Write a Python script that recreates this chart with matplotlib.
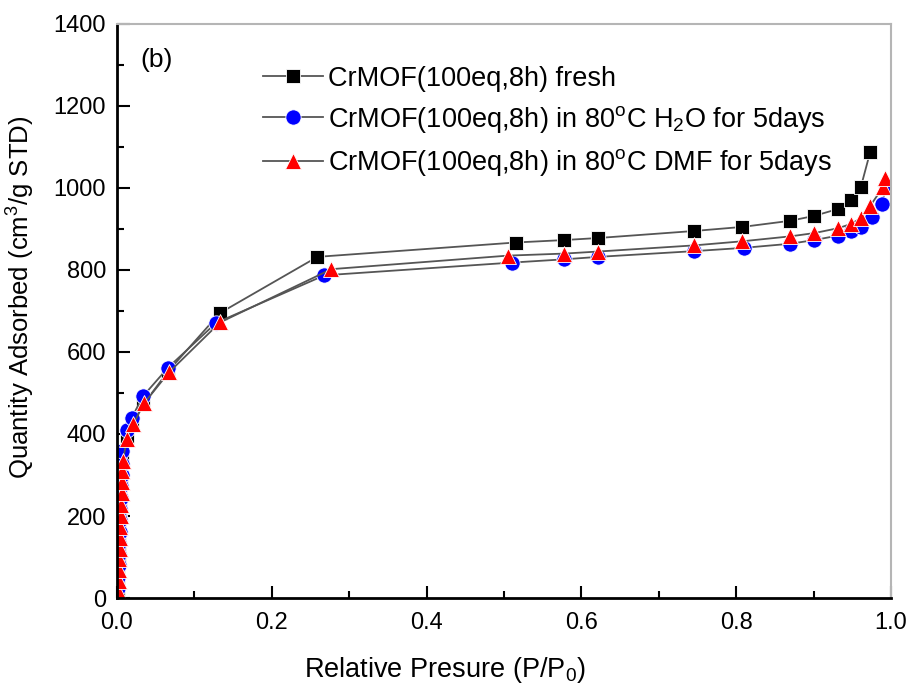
import matplotlib.pyplot as plt
from matplotlib.ticker import MultipleLocator

# isotherm data
fresh_x = [0.0008, 0.0012, 0.0016, 0.002, 0.0024, 0.0028, 0.0032, 0.0036, 0.004, 0.0045,
           0.005, 0.0055, 0.006, 0.013, 0.019, 0.034, 0.066, 0.133, 0.259, 0.515, 0.578,
           0.622, 0.745, 0.808, 0.870, 0.901, 0.932, 0.948, 0.961, 0.973]
fresh_y = [10, 38, 65, 92, 120, 148, 175, 202, 230, 258, 285, 312, 340, 395, 428, 472,
           553, 695, 832, 867, 873, 878, 895, 905, 920, 932, 949, 971, 1002, 1087]

h2o_x = [0.001, 0.0015, 0.002, 0.0025, 0.003, 0.0035, 0.004, 0.0045, 0.005, 0.0055,
         0.006, 0.0065, 0.007, 0.013, 0.019, 0.034, 0.066, 0.128, 0.268, 0.510, 0.578,
         0.622, 0.746, 0.810, 0.870, 0.901, 0.932, 0.948, 0.961, 0.975, 0.989, 0.993]
h2o_y = [25, 52, 80, 108, 135, 162, 190, 218, 245, 272, 300, 328, 358, 410, 440, 493,
         562, 671, 787, 818, 826, 832, 846, 854, 864, 873, 884, 894, 906, 930, 962, 1005]

dmf_x = [0.0015, 0.002, 0.0025, 0.003, 0.0035, 0.004, 0.0045, 0.005, 0.0055, 0.006,
         0.0065, 0.007, 0.0075, 0.013, 0.021, 0.035, 0.067, 0.133, 0.277, 0.505, 0.578,
         0.622, 0.746, 0.808, 0.870, 0.901, 0.932, 0.948, 0.961, 0.973, 0.990, 0.992]
dmf_y = [18, 42, 68, 95, 120, 146, 172, 200, 228, 255, 283, 310, 335, 388, 424, 475,
         550, 672, 802, 835, 840, 845, 860, 870, 882, 890, 902, 912, 926, 956, 1003, 1025]

labels = ["CrMOF(100eq,8h) fresh",
          r"CrMOF(100eq,8h) in 80$^{\rm o}$C H$_2$O for 5days",
          r"CrMOF(100eq,8h) in 80$^{\rm o}$C DMF for 5days"]

plt.rcParams["font.family"] = ["Liberation Sans", "DejaVu Sans"]
plt.rcParams["mathtext.fontset"] = "custom"
plt.rcParams["mathtext.rm"] = "Liberation Sans"
plt.rcParams["mathtext.it"] = "Liberation Sans:italic"

fig = plt.figure(figsize=(9.09, 6.84), dpi=100)
ax = fig.add_axes([0.1287, 0.1257, 0.8515, 0.8393])

line_kw = dict(color="#555555", lw=1.3, markeredgecolor="white", markeredgewidth=0.6)
ax.plot(fresh_x, fresh_y, marker="s", markersize=10, markerfacecolor="black",
        label=labels[0], **line_kw)
ax.plot(h2o_x, h2o_y, marker="o", markersize=11, markerfacecolor="blue",
        label=labels[1], **line_kw)
ax.plot(dmf_x, dmf_y, marker="^", markersize=11, markerfacecolor="red",
        label=labels[2], **line_kw)

ax.set_xlim(0, 1.0)
ax.set_ylim(0, 1400)
ax.set_xticks([0, 0.2, 0.4, 0.6, 0.8, 1.0])
ax.set_xticklabels(["0.0", "0.2", "0.4", "0.6", "0.8", "1.0"])
ax.xaxis.set_minor_locator(MultipleLocator(0.1))
ax.yaxis.set_major_locator(MultipleLocator(200))
ax.yaxis.set_minor_locator(MultipleLocator(100))
ax.tick_params(which="both", direction="in", top=False, right=False,
               labelsize=17, width=1.5)
ax.tick_params(axis="x", pad=10)
ax.tick_params(axis="y", pad=8)
ax.tick_params(which="major", length=9)
ax.tick_params(which="minor", length=5)

for side in ["left", "bottom"]:
    ax.spines[side].set_linewidth(2)
for side in ["top", "right"]:
    ax.spines[side].set_color("#b5b5b5")
    ax.spines[side].set_linewidth(1.5)

ax.set_xlabel("Relative Presure (P/P$_0$)", fontsize=19.5)
ax.set_ylabel("Quantity Adsorbed (cm$^3$/g STD)", fontsize=18.5)
ax.xaxis.set_label_coords(0.424, -0.1)
ax.yaxis.set_label_coords(-0.103, 0.523)

ax.text(0.03, 0.925, "(b)", transform=ax.transAxes, fontsize=19)

leg = ax.legend(loc="upper left", bbox_to_anchor=(0.175, 0.946), frameon=False,
                fontsize=19.5, handlelength=2.2, handletextpad=0.2, labelspacing=0.45,
                borderaxespad=0)

# plt.show()
fig.savefig("out.png", dpi=100)
plt.close(fig)
